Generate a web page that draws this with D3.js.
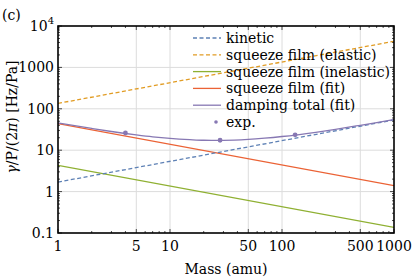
<!DOCTYPE html>
<html>
<head>
<meta charset="utf-8">
<script src="https://cdn.jsdelivr.net/npm/d3@7"></script>
<style>
  body { margin: 0; background: #fff; }
</style>
</head>
<body>
<script>

// values
var lineMass = [1, 1000];
var kinetic = [1.7, 53.8];
var elastic = [135, 4270];
var inelastic = [4.3, 0.136];
var squeezeFit = [44, 1.39];

var totalMass = [1, 2, 3, 5, 7, 10, 15, 20, 30, 50, 70, 100, 200, 300, 500, 700, 1000];
var totalFit = [45.7, 33.5, 28.3, 23.5, 21.1, 19.3, 18.0, 17.4, 17.3, 18.2, 19.5, 21.4, 27.1, 31.9, 40, 46.6, 55.2];

var expMass = [4.0, 28, 131];
var expVal = [26, 17.4, 23.5];

var xTicks = [1, 5, 10, 50, 100, 500, 1000];
var yTicks = [0.1, 1, 10, 100, 1000, 10000];

var width = 415;
var height = 279;
var margin = {top: 26, right: 21, bottom: 46, left: 58};
var fontName = "DejaVu Serif";
var fs = 14;

var svg = d3.select("body").append("svg")
	.attr("width", width)
	.attr("height", height)
	.style("font-family", fontName);

var x = d3.scaleLog().domain([1, 1000]).range([margin.left, width - margin.right]);
var y = d3.scaleLog().domain([0.1, 10000]).range([height - margin.bottom, margin.top]);

var colors = {
	kinetic: "#5e81b5",
	elastic: "#e19c24",
	inelastic: "#8fb032",
	fit: "#eb6235",
	total: "#8778b3"
};

// grid
svg.append("g").selectAll("line").data(xTicks.slice(1, -1))
	.enter().append("line")
	.attr("x1", function(d){ return x(d); })
	.attr("x2", function(d){ return x(d); })
	.attr("y1", y(0.1)).attr("y2", y(10000))
	.attr("stroke", "#dcdcdc").attr("stroke-width", 1);

svg.append("g").selectAll("line").data(yTicks.slice(1, -1))
	.enter().append("line")
	.attr("y1", function(d){ return y(d); })
	.attr("y2", function(d){ return y(d); })
	.attr("x1", x(1)).attr("x2", x(1000))
	.attr("stroke", "#dcdcdc").attr("stroke-width", 1);

// minor ticks, inward, on all sides
var xMinor = x.ticks();
var yMinor = y.ticks();
var ticks = svg.append("g").attr("stroke", "#000").attr("stroke-width", 0.7);
xMinor.forEach(function(d){
	var big = xTicks.indexOf(d) >= 0;
	var len = big ? 4 : 2;
	ticks.append("line").attr("x1", x(d)).attr("x2", x(d)).attr("y1", y(0.1)).attr("y2", y(0.1) - len);
	ticks.append("line").attr("x1", x(d)).attr("x2", x(d)).attr("y1", y(10000)).attr("y2", y(10000) + len);
});
yMinor.forEach(function(d){
	var big = yTicks.indexOf(d) >= 0;
	var len = big ? 4 : 2;
	ticks.append("line").attr("y1", y(d)).attr("y2", y(d)).attr("x1", x(1)).attr("x2", x(1) + len);
	ticks.append("line").attr("y1", y(d)).attr("y2", y(d)).attr("x1", x(1000)).attr("x2", x(1000) - len);
});

svg.append("clipPath").attr("id", "clip")
	.append("rect")
	.attr("x", margin.left).attr("y", margin.top)
	.attr("width", width - margin.left - margin.right)
	.attr("height", height - margin.top - margin.bottom);

var plot = svg.append("g").attr("clip-path", "url(#clip)");

var line = d3.line()
	.x(function(d){ return x(d[0]); })
	.y(function(d){ return y(d[1]); });

var series = [
	{vals: inelastic, color: colors.inelastic, dash: null},
	{vals: squeezeFit, color: colors.fit, dash: null},
	{vals: kinetic, color: colors.kinetic, dash: "4,2.5"},
	{vals: elastic, color: colors.elastic, dash: "4,2.5"}
];

series.forEach(function(s){
	plot.append("path")
		.datum(d3.zip(lineMass, s.vals))
		.attr("d", line)
		.attr("fill", "none")
		.attr("stroke", s.color)
		.attr("stroke-width", 1.3)
		.attr("stroke-dasharray", s.dash);
});

plot.append("path")
	.datum(d3.zip(totalMass, totalFit))
	.attr("d", line.curve(d3.curveMonotoneX))
	.attr("fill", "none")
	.attr("stroke", colors.total)
	.attr("stroke-width", 1.3);

plot.selectAll("circle").data(d3.zip(expMass, expVal))
	.enter().append("circle")
	.attr("cx", function(d){ return x(d[0]); })
	.attr("cy", function(d){ return y(d[1]); })
	.attr("r", 2.4)
	.attr("fill", colors.total);

// frame
svg.append("rect")
	.attr("x", margin.left).attr("y", margin.top)
	.attr("width", width - margin.left - margin.right)
	.attr("height", height - margin.top - margin.bottom)
	.attr("fill", "none").attr("stroke", "#000").attr("stroke-width", 1.6);

// tick labels
svg.append("g").selectAll("text").data(xTicks)
	.enter().append("text")
	.attr("x", function(d){ return x(d); })
	.attr("y", 251)
	.attr("text-anchor", "middle")
	.attr("font-size", fs)
	.text(function(d){ return d; });

var yl = svg.append("g").selectAll("text").data(yTicks)
	.enter().append("text")
	.attr("x", 54)
	.attr("y", function(d){ return y(d) + 5; })
	.attr("text-anchor", "end")
	.attr("font-size", fs);
yl.each(function(d){
	var t = d3.select(this);
	if (d === 10000) {
		t.append("tspan").text("10");
		t.append("tspan").attr("font-size", 10).attr("dy", -7).text("4");
	} else {
		t.text(d);
	}
});

// axis titles
svg.append("text")
	.attr("x", (margin.left + width - margin.right) / 2)
	.attr("y", 274)
	.attr("text-anchor", "middle")
	.attr("font-size", fs)
	.text("Mass (amu)");

var ylab = svg.append("text")
	.attr("transform", "translate(17,117) rotate(-90)")
	.attr("text-anchor", "middle")
	.attr("font-size", fs);
ylab.append("tspan").attr("font-style", "italic").text("γ");
ylab.append("tspan").text("/P/(2");
ylab.append("tspan").attr("font-style", "italic").text("π");
ylab.append("tspan").text(") [Hz/Pa]");

svg.append("text")
	.attr("x", 2).attr("y", 20)
	.attr("font-size", fs)
	.text("(c)");

// legend
var legendNames = ["kinetic", "squeeze film (elastic)", "squeeze film (inelastic)", "squeeze film (fit)", "damping total (fit)", "exp."];
var legendColors = [colors.kinetic, colors.elastic, colors.inelastic, colors.fit, colors.total, colors.total];
var legendDash = ["4,2.5", "4,2.5", null, null, null, null];

var leg = svg.append("g");
legendNames.forEach(function(name, i){
	var ly = 38 + i * 16.8;
	if (i < 5) {
		leg.append("line")
			.attr("x1", 193).attr("x2", 221)
			.attr("y1", ly).attr("y2", ly)
			.attr("stroke", legendColors[i])
			.attr("stroke-width", 1.3)
			.attr("stroke-dasharray", legendDash[i]);
	} else {
		leg.append("circle").attr("cx", 216).attr("cy", ly).attr("r", 1.8).attr("fill", legendColors[i]);
	}
	leg.append("text")
		.attr("x", 226).attr("y", ly + 5)
		.attr("font-size", fs)
		.text(name);
});

</script>
</body>
</html>
